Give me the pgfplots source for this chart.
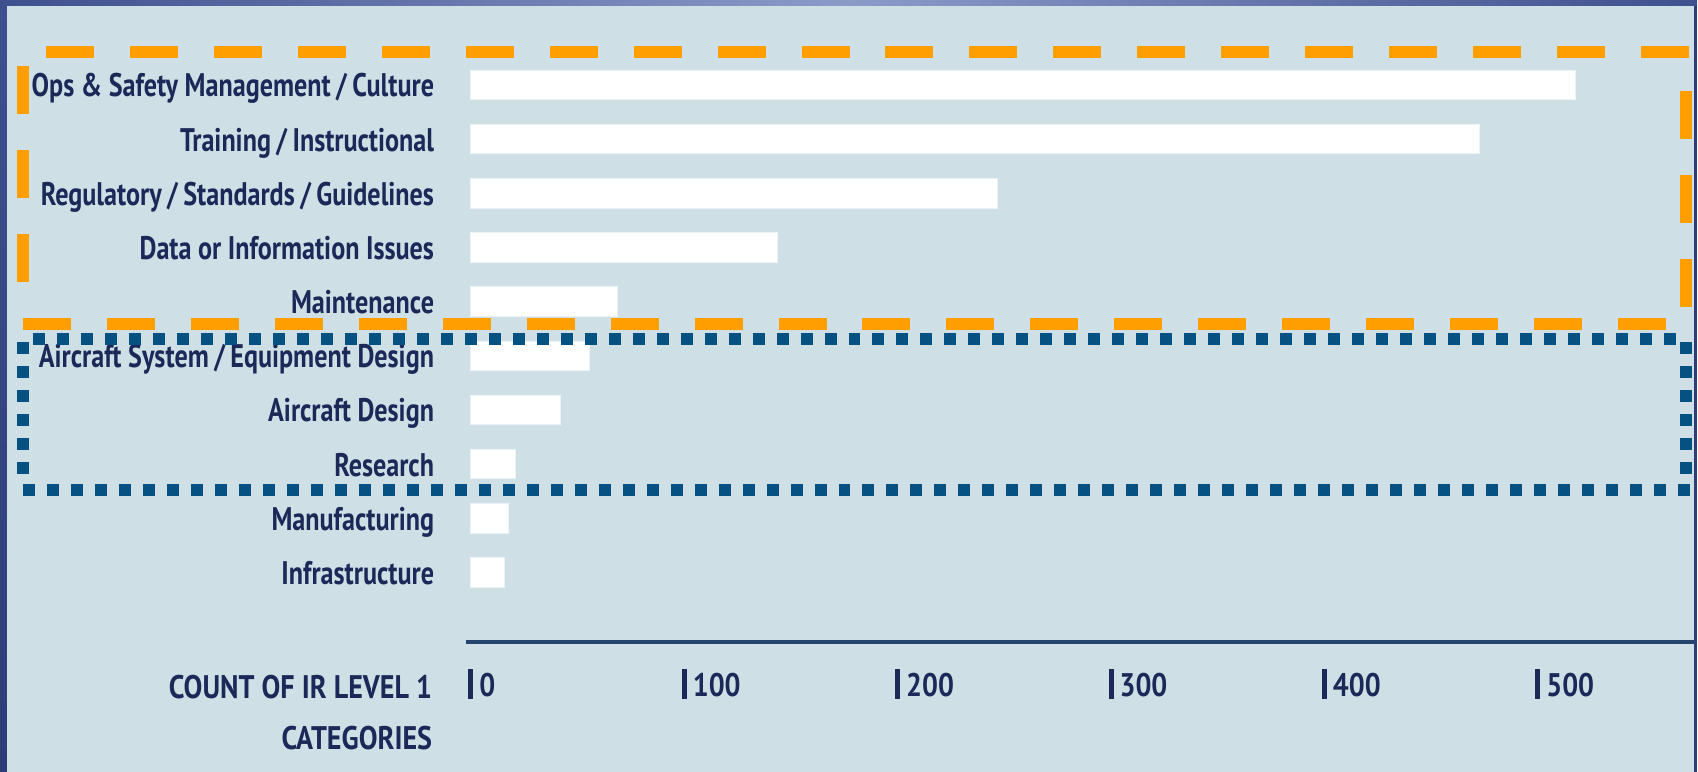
\documentclass[border=0pt]{standalone}
\usepackage{pgfplots}
\pgfplotsset{compat=1.18}
\usepackage{fontspec}
\setmainfont{PT Sans}[FakeStretch=0.80]
\newfontfamily\capsfont{PT Sans}[FakeStretch=0.86]
\definecolor{bg}{RGB}{206,224,230}
\definecolor{navy}{RGB}{27,40,88}
\definecolor{orng}{RGB}{255,158,0}
\definecolor{dotblue}{RGB}{5,82,130}
\definecolor{axblue}{RGB}{38,66,110}
\definecolor{frameA}{RGB}{62,80,142}
\definecolor{frameB}{RGB}{140,154,200}
\definecolor{frameC}{RGB}{46,60,120}
\newcommand{\lblfont}{\fontsize{9.3pt}{14.5pt}\selectfont\bfseries}
\newcommand{\capfont}{\capsfont\fontsize{9.3pt}{14.5pt}\selectfont\bfseries}
\begin{document}
\begin{tikzpicture}
\begin{scope}[x=0.1mm,y=0.1mm]
\fill[bg] (0,0) rectangle (1698,772);
\shade[left color=frameA, right color=frameA, middle color=frameB] (0,766) rectangle (1698,772);
\shade[top color=frameA, bottom color=frameC] (0,0) rectangle (7,772);
\fill[frameC] (1695,0) rectangle (1698,766);
\path[use as bounding box] (0,0) rectangle (1698,772);
\end{scope}
\begin{axis}[
  at={(46.67mm,13mm)}, anchor=south west,
  scale only axis, width=122.83mm, height=61.2mm,
  xmin=-1.8, xmax=573.5, ymin=-1.277, ymax=10.015,
  clip=false,
  xbar, bar width=2.95mm,
  axis x line*=bottom, axis y line*=left,
  x axis line style={draw=axblue, line width=0.4mm, -},
  y axis line style={draw=none},
  major tick length=0pt,
  xtick={0,100,200,300,400,500},
  ytick={0,...,9},
  yticklabels={Infrastructure,Manufacturing,Research,Aircraft Design,
    Aircraft System\,/\,Equipment Design,Maintenance,Data or Information Issues,
    Regulatory\,/\,Standards\,/\,Guidelines,Training\,/\,Instructional,
    Ops \& Safety Management\,/\,Culture},
  /pgf/number format/assume math mode=true,
  tick label style={font=\lblfont, text=navy, inner sep=0pt},
  yticklabel style={anchor=base east, xshift=-3.17mm, yshift=-1.2mm},
  xticklabel={\rule[-0.2mm]{0.5mm}{3.0mm}\hspace{0.6mm}\pgfmathprintnumber{\tick}},
  xticklabel style={anchor=base west, xshift=-0.25mm, yshift=-5.5mm, font=\capfont},
  xlabel={COUNT OF IR LEVEL 1\\CATEGORIES},
  x label style={at={(axis description cs:0,0)}, anchor=north east, align=right,
    inner sep=0pt, xshift=-3.37mm, yshift=-3.3mm, font=\capfont, text=navy},
]
\addplot[fill=white, draw={rgb,255:red,236;green,243;blue,246}, line width=0.3pt]
  coordinates {(16,0) (18,1) (21,2) (42.5,3) (56,4) (69,5) (144,6) (247,7) (473,8) (518,9)};
\end{axis}
\begin{scope}[x=0.1mm,y=0.1mm]
\draw[orng, line width=1.2mm, dash pattern=on 4.8mm off 3.6mm] (46,720) -- (1693,720);
\draw[orng, line width=1.2mm, dash pattern=on 4.8mm off 3.6mm] (23,706) -- (23,490);
\draw[orng, line width=1.2mm, dash pattern=on 4.8mm off 3.6mm] (23,448) -- (1667,448);
\draw[orng, line width=1.2mm, dash pattern=on 4.8mm off 3.6mm] (1687,681) -- (1687,465);
\draw[dotblue, line width=1.2mm, dash pattern=on 1.2mm off 1.2mm] (33,433) -- (1677,433);
\draw[dotblue, line width=1.2mm, dash pattern=on 1.2mm off 1.2mm] (1687,430) -- (1687,298);
\draw[dotblue, line width=1.2mm, dash pattern=on 1.2mm off 1.2mm] (23,282) -- (1693,282);
\draw[dotblue, line width=1.2mm, dash pattern=on 1.2mm off 1.2mm] (23,430) -- (23,298);
\end{scope}
\end{tikzpicture}
\end{document}
